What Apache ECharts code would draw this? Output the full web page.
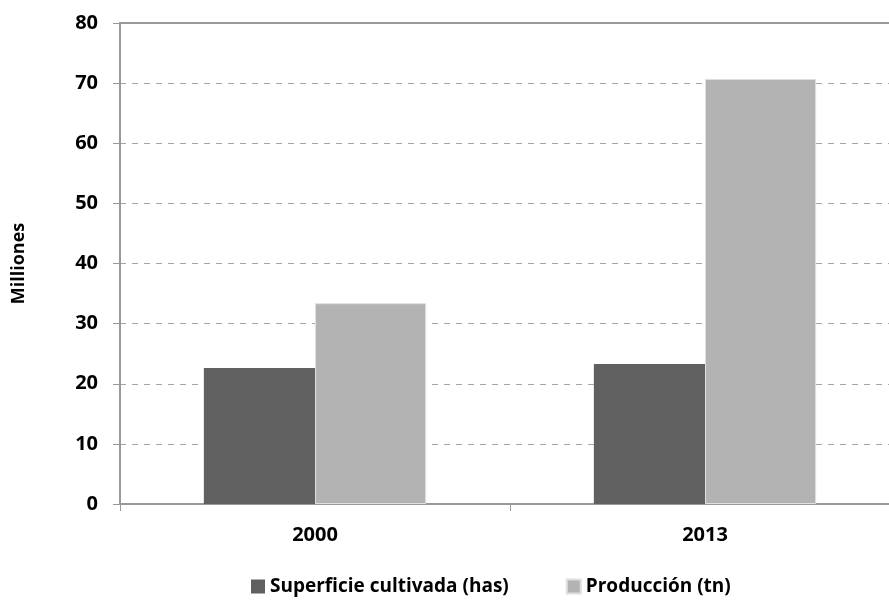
<!doctype html>
<html lang="es">
<head>
    <meta charset="utf-8">
    <title>chart</title>
    <script src="https://cdn.jsdelivr.net/npm/echarts@6/dist/echarts.min.js"></script>
    <style>
        html, body {margin: 0; padding: 0; background: #fff;}
        #main {width: 889px; height: 600px;}
    </style>
</head>
<body>
<div id="main"></div>
<script>
    // datos del gráfico
    const years = ['2000', '2013'];
    const superficie = [22.6, 23.3];
    const produccion = [33.4, 70.7];
    const seriesNames = ['Superficie cultivada (has)', 'Producción (tn)'];

    const font = '"Open Sans", sans-serif';
    const myChart = echarts.init(document.getElementById('main'));

    const option = {
        animation: false,
        backgroundColor: '#fff',
        grid: {left: 120, width: 780, top: 23, bottom: 96, outerBoundsMode: 'none', containLabel: false},
        legend: {
            top: 572,
            left: 246,
            itemWidth: 14,
            itemHeight: 14,
            itemGap: 57,
            icon: 'rect',
            textStyle: {fontFamily: font, fontWeight: 'bold', fontSize: 19, color: '#000'},
            data: seriesNames
        },
        xAxis: [{
            type: 'category',
            data: years,
            axisLine: {lineStyle: {color: '#999', width: 2}},
            axisTick: {show: true, length: 7, lineStyle: {color: '#999', width: 1}},
            axisLabel: {fontFamily: font, fontWeight: 'bold', fontSize: 20, color: '#000', margin: 21}
        }, {
            type: 'category',
            position: 'top',
            data: years,
            axisLine: {lineStyle: {color: '#999', width: 2}},
            axisTick: {show: false},
            axisLabel: {show: false}
        }],
        yAxis: {
            type: 'value',
            min: 0,
            max: 80,
            interval: 10,
            name: 'Milliones',
            nameLocation: 'middle',
            nameGap: 92,
            nameRotate: 90,
            nameTextStyle: {fontFamily: font, fontWeight: 'bold', fontSize: 18, color: '#000'},
            axisLine: {show: true, lineStyle: {color: '#999', width: 2}},
            axisTick: {show: true, length: 7, lineStyle: {color: '#999', width: 1}},
            axisLabel: {fontFamily: font, fontWeight: 'bold', fontSize: 20, color: '#000', margin: 22},
            splitLine: {lineStyle: {color: '#a6a6a6', type: [6, 6], width: 1}}
        },
        series: [{
            name: seriesNames[0],
            type: 'bar',
            data: superficie,
            barWidth: '28.5%',
            barGap: '0%',
            itemStyle: {color: '#606060'}
        }, {
            name: seriesNames[1],
            type: 'bar',
            data: produccion,
            barWidth: '28.5%',
            itemStyle: {color: '#b3b3b3', borderColor: '#e0e0e0', borderWidth: 1}
        }]
    };

    myChart.setOption(option);
</script>
</body>
</html>
